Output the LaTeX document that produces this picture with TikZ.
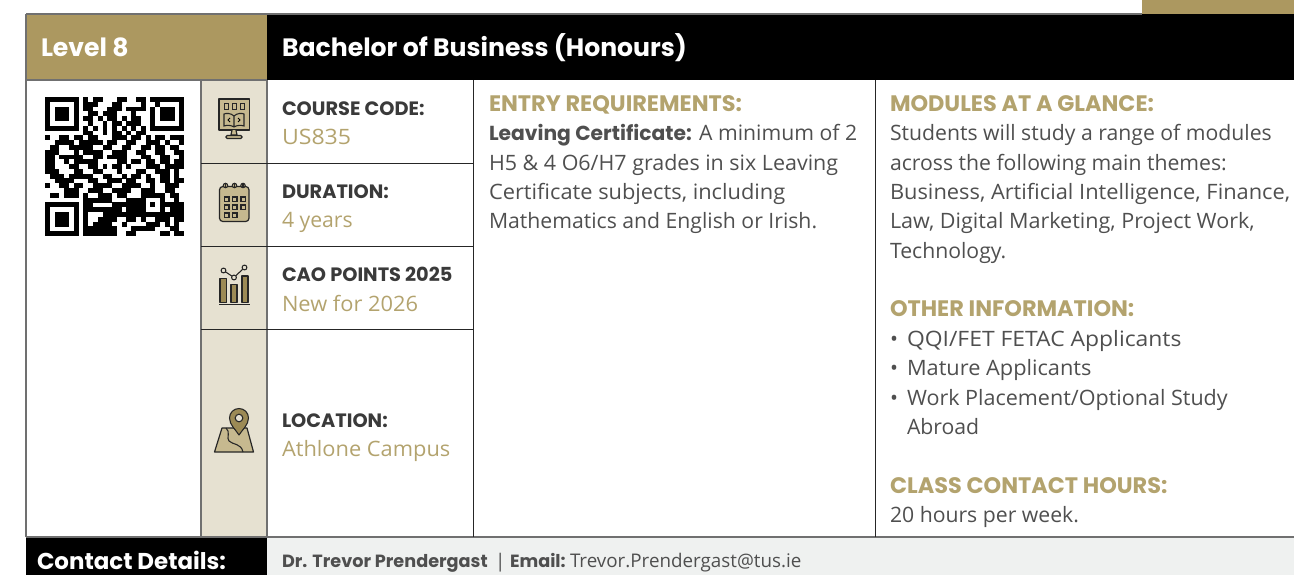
\documentclass[tikz,border=0pt]{standalone}
\usepackage{fontspec}
\setmainfont{Open Sans}
\newfontfamily\boldfam{Poppins}
\definecolor{gold}{HTML}{AC9860}
\definecolor{goldtxt}{HTML}{B3A36E}
\definecolor{beige}{HTML}{E6E1D1}
\definecolor{iconfill}{HTML}{C6B98F}
\definecolor{icondark}{HTML}{9C8A55}
\definecolor{bodygrey}{HTML}{4F4F4F}
\definecolor{darktxt}{HTML}{3A3A3A}
\definecolor{rulegrey}{HTML}{707070}
\definecolor{contactbg}{HTML}{EFF1F0}
\newcommand{\fbody}{\fontsize{15.9}{18}\selectfont}
\newcommand{\fhead}{\fontsize{16.8}{18}\selectfont\boldfam\bfseries}
\newcommand{\fsmall}{\fontsize{14.5}{16}\selectfont\boldfam\bfseries}
\newcommand{\fval}{\fontsize{15.9}{18}\selectfont}
\newcommand{\ftitle}{\fontsize{18.85}{22}\selectfont\boldfam\bfseries}
\newcommand{\fcontact}{\fontsize{14.1}{16}\selectfont}
\newcommand{\bld}[1]{{\boldfam\bfseries #1}}
\newcommand{\st}[2]{{\addfontfeature{FakeStretch=#1}#2}}
\newcount\qrx \newcount\qry
\def\qrscan#1{\ifx#1\relax\let\qrnext\relax\else
  \if1#1\fill[black] ({45+\the\qrx*4.793},{97+\the\qry*4.793}) rectangle ++(4.9,4.9);\fi
  \advance\qrx by 1 \let\qrnext\qrscan\fi\qrnext}
\def\qrrow#1{\qrx=0 \qrscan#1\relax\advance\qry by 1 }
\tikzset{
  lbl/.style={anchor=base west,inner sep=0pt,outer sep=0pt},
  bodytxt/.style={lbl,text=bodygrey,font=\fbody},
  headtxt/.style={lbl,text=goldtxt,font=\fhead},
  keytxt/.style={lbl,text=darktxt,font=\fsmall},
  valtxt/.style={lbl,text=goldtxt,font=\fval},
  titletxt/.style={lbl,text=white,font=\ftitle},
  contacttxt/.style={lbl,text=bodygrey,font=\fcontact},
  gridline/.style={draw=rulegrey,line width=0.9pt},
  darkline/.style={draw=black!85,line width=0.6pt},
  ico/.style={draw=black!85,line width=0.9pt,fill=iconfill,line join=round},
  icob/.style={draw=black!85,line width=0.8pt,fill=icondark,line join=round},
}
\begin{document}
\begin{tikzpicture}[x=0.75pt,y=-0.75pt]
\useasboundingbox (0,0) rectangle (1294,575);
% bands
\fill[gold] (1142,0) rectangle (1294,14);
\fill[gold] (26,14) rectangle (267,80);
\fill[black] (267,14) rectangle (1294,80);
\fill[beige] (201,80) rectangle (267,537);
\fill[black] (26,537) rectangle (267,575);
\fill[contactbg] (267,537) rectangle (1294,575);
% rules
\draw[gridline] (26,14) -- (1142,14);
\draw[gridline] (26,14) -- (26,537);
\draw[gridline] (201,80) -- (201,537);
\draw[gridline] (267,80) -- (267,537);
\draw[gridline] (26,80) -- (267,80);
\draw[gridline] (26,537) -- (1294,537);
\draw[darkline] (473.5,80) -- (473.5,537);
\draw[darkline] (875.5,80) -- (875.5,537);
\draw[darkline] (201,163.5) -- (473,163.5);
\draw[darkline] (201,246.5) -- (473,246.5);
\draw[darkline] (201,329.5) -- (473,329.5);
% QR
\qry=0
\qrrow{11111110101100011001101111111}
\qrrow{10000010111000110000100100001}
\qrrow{10111010110001110111101011101}
\qrrow{10111010011011100010001011101}
\qrrow{10111010110101101011001011101}
\qrrow{10000010010010110111001000001}
\qrrow{11111110101010101010101111111}
\qrrow{00000000110010110101100000000}
\qrrow{10011011011000111011010110111}
\qrrow{00111101111101100110011101001}
\qrrow{01100111110011001100110110110}
\qrrow{11100010111100111001100110011}
\qrrow{11011111001101111000110011001}
\qrrow{11001011111000011011011011011}
\qrrow{11000110011010110100011101111}
\qrrow{11100011001100010001100111010}
\qrrow{01110111110011001011010011010}
\qrrow{00111100011001110110011011011}
\qrrow{10011011001111001111001001110}
\qrrow{00001110011100111100111001100}
\qrrow{01101110100111011000111110110}
\qrrow{00000000111111000111100010010}
\qrrow{11111110110000111111101011111}
\qrrow{10000010111111110111100010111}
\qrrow{10111010100011111111111111111}
\qrrow{10111010100111100110100111011}
\qrrow{10111010101111001000011101010}
\qrrow{10000010111111100011111000110}
\qrrow{11111110111111100110000011011}
% icon 1: screen with book
\draw[ico] (219,99) rectangle (249.5,130);
\foreach \xx in {224,232,240} \draw[draw=black!85,line width=0.7pt] (\xx,103) rectangle ++(4.5,6);
\draw[draw=black!85,line width=0.8pt,fill=iconfill] (234,116) .. controls (231,113) and (226,113) .. (224,114) -- (224,126) .. controls (227,125) and (231,125) .. (234,127) .. controls (237,125) and (241,125) .. (244,126) -- (244,114) .. controls (242,113) and (237,113) .. (234,116) -- (234,127);
\draw[line width=0.7pt] (230,118) -- (228,120) -- (230,122) (238,118) -- (240,120) -- (238,122);
\draw[draw=black!85,line width=0.9pt,fill=iconfill] (232,130) -- (231,135) -- (237,135) -- (236,130);
\draw[draw=black!85,line width=0.9pt,fill=iconfill,rounded corners=1pt] (226,135.5) rectangle (242,138.5);
% icon 2: calendar
\draw[ico,rounded corners=2.5pt] (219.5,186.5) rectangle (249,221.5);
\foreach \xx in {225.5,234.5,243} {
  \draw[draw=black!85,line width=0.8pt,fill=iconfill] (\xx,185.5) circle (2.2);
  \draw[black!85,line width=1pt] (\xx,182.5) -- (\xx,187);
}
\foreach \xx in {224.5,232.5,241}
  \foreach \yy in {197,205}
    \draw[draw=black!85,line width=0.8pt] (\xx,\yy) rectangle ++(4.5,4.5);
\foreach \xx in {224.5,232.5}
  \draw[draw=black!85,line width=0.8pt] (\xx,213) rectangle ++(4.5,4.5);
% icon 3: chart
\draw[icob] (220,278.5) rectangle (226.5,302.5);
\draw[icob] (231,284.5) rectangle (237,302.5);
\draw[icob] (242,276) rectangle (248,302.5);
\draw[black!85,line width=1pt] (219,304.5) -- (249.5,304.5);
\coordinate (ca) at (223.5,270.5);
\coordinate (cb) at (234,277.5);
\coordinate (cc) at (244.5,267.5);
\draw[black!85,line width=0.8pt] (ca) -- (cb) -- (cc);
\foreach \cc in {ca,cb,cc} \draw[draw=black!85,line width=0.8pt,fill=beige] (\cc) circle (2.4);
% icon 4: map pin
\draw[ico] (222,428) -- (247,428) -- (253.5,452) -- (214.5,452) -- cycle;
\draw[black!85,line width=0.8pt] (226,428) .. controls (231,432) and (226,438) .. (229,441) .. controls (233,445) and (241,443) .. (243,452);
\draw[icob] (239,435) .. controls (236,430) and (229.5,425) .. (229.5,418) arc[start angle=180,end angle=360,radius=9.5] .. controls (248.5,425) and (242,430) .. (239,435) -- cycle;
\draw[draw=black!85,line width=0.8pt,fill=beige] (239,418) circle (3.8);
% header text
\node[titletxt] (level) at (41,56) {Level 8};
\node[titletxt] (title) at (282,56) {Bachelor of Business (Honours)};
% info column
\node[keytxt] (k1) at (282,115) {COURSE CODE:};
\node[valtxt] (v1) at (282,144) {\st{1.09}{US835}};
\node[keytxt] (k2) at (282,198) {DURATION:};
\node[valtxt] (v2) at (282,227) {4 years};
\node[keytxt] (k3) at (282,281) {CAO POINTS 2025};
\node[valtxt] (v3) at (282,311) {\st{1.03}{New for 2026}};
\node[keytxt] (k4) at (282,427) {LOCATION:};
\node[valtxt] (v4) at (282,456) {\st{1.03}{Athlone Campus}};
% entry column
\node[headtxt] (e0) at (489,111) {ENTRY REQUIREMENTS:};
\node[bodytxt] (e1) at (489,140) {\bld{\fontsize{15.2}{18}\selectfont Leaving Certificate:} A minimum of 2};
\node[bodytxt] (e2) at (489,170) {\st{1.012}{H5 \& 4 O6/H7 grades in six Leaving}};
\node[bodytxt] (e3) at (489,199) {\st{1.03}{Certificate subjects, including}};
\node[bodytxt] (e4) at (489,228) {Mathematics and English or Irish.};
% modules column
\node[headtxt] (m0) at (890,111) {MODULES AT A GLANCE:};
\node[bodytxt] (m1) at (890,140) {Students will study a range of modules};
\node[bodytxt] (m2) at (890,170) {across the following main themes:};
\node[bodytxt] (m3) at (890,199) {\st{1.03}{Business, Artificial Intelligence, Finance,}};
\node[bodytxt] (m4) at (890,228) {\st{1.017}{Law, Digital Marketing, Project Work,}};
\node[bodytxt] (m5) at (890,258) {Technology.};
\node[headtxt] (o0) at (890,316) {OTHER INFORMATION:};
\node[bodytxt] (b1) at (890,346) {•};
\node[bodytxt] (o1) at (907,346) {\st{1.08}{QQI/FET FETAC Applicants}};
\node[bodytxt] (b2) at (890,375) {•};
\node[bodytxt] (o2) at (907,375) {\st{1.027}{Mature Applicants}};
\node[bodytxt] (b3) at (890,405) {•};
\node[bodytxt] (o3) at (907,405) {\st{1.016}{Work Placement/Optional Study}};
\node[bodytxt] (o4) at (907,434) {Abroad};
\node[headtxt] (c0) at (890,493) {CLASS CONTACT HOURS:};
\node[bodytxt] (c1) at (890,522) {20 hours per week.};
% contact row
\node[lbl,text=white,font=\fontsize{17.2}{20}\selectfont\boldfam\bfseries] (cd) at (37,569) {Contact Details:};
\node[contacttxt] (n1) at (282,567) {\bld{\fontsize{13.25}{16}\selectfont Dr. Trevor Prendergast}};
\node[contacttxt] (n2) at (495,567) {|};
\node[contacttxt] (n3) at (510,567) {\bld{\fontsize{13.25}{16}\selectfont Email:}};
\node[contacttxt] (n4) at (570,567) {Trevor.Prendergast@tus.ie};
\end{tikzpicture}
\end{document}
